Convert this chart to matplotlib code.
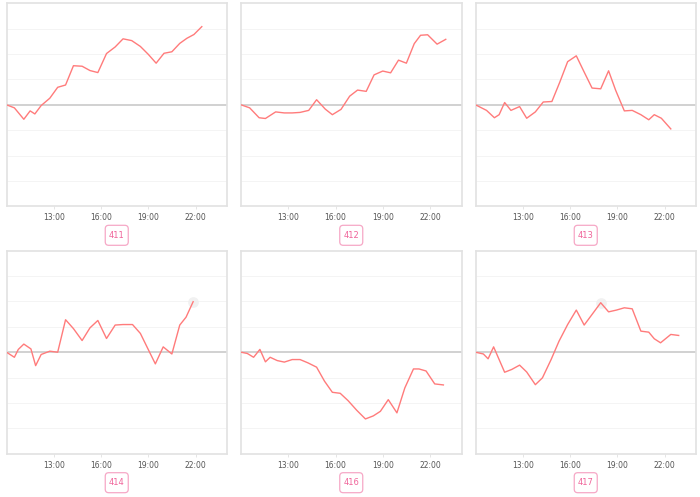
import matplotlib
matplotlib.use("Agg")
import matplotlib.pyplot as plt
from matplotlib.patches import FancyBboxPatch
from matplotlib.transforms import IdentityTransform

# time of day (hours) and relative change per grid step
t_411 = [10.0, 10.5, 11.1, 11.5, 11.8, 12.2, 12.75, 13.25, 13.75, 14.25, 14.8, 15.3, 15.8,
         16.35, 16.9, 17.4, 17.95, 18.5, 19.0, 19.5, 20.0, 20.5, 21.0, 21.45, 21.9, 22.4]
v_411 = [0, -0.12, -0.57, -0.24, -0.36, -0.03, 0.26, 0.69, 0.78, 1.54, 1.52, 1.35, 1.27,
         2.02, 2.28, 2.6, 2.53, 2.3, 1.99, 1.64, 2.03, 2.09, 2.42, 2.62, 2.77, 3.08]

t_412 = [10.0, 10.55, 11.15, 11.55, 12.2, 12.75, 13.25, 13.75, 14.3, 14.8, 15.35, 15.8, 16.35,
         16.9, 17.4, 17.95, 18.45, 19.0, 19.5, 20.0, 20.5, 21.0, 21.4, 21.85, 22.45, 23.0]
v_412 = [0, -0.12, -0.51, -0.54, -0.28, -0.32, -0.32, -0.3, -0.22, 0.2, -0.17, -0.39, -0.18,
         0.34, 0.58, 0.53, 1.18, 1.33, 1.26, 1.76, 1.64, 2.41, 2.74, 2.76, 2.39, 2.58]

t_413 = [10.0, 10.7, 11.2, 11.5, 11.85, 12.25, 12.8, 13.25, 13.8, 14.3, 14.85, 15.35, 15.85,
         16.4, 16.9, 17.4, 17.95, 18.45, 18.9, 19.45, 19.95, 20.5, 21.0, 21.35, 21.8, 22.4]
v_413 = [0, -0.22, -0.51, -0.39, 0.09, -0.22, -0.07, -0.53, -0.28, 0.11, 0.13, 0.89, 1.7,
         1.93, 1.29, 0.66, 0.63, 1.34, 0.57, -0.24, -0.22, -0.39, -0.59, -0.39, -0.53, -0.95]

t_414 = [10.0, 10.5, 10.75, 11.1, 11.55, 11.85, 12.2, 12.75, 13.25, 13.75, 14.25, 14.8, 15.3,
         15.8, 16.35, 16.9, 17.4, 18.0, 18.5, 18.95, 19.45, 19.95, 20.5, 21.0, 21.4, 21.85]
v_414 = [0, -0.2, 0.11, 0.32, 0.13, -0.53, -0.09, 0.04, 0, 1.28, 0.93, 0.46, 0.96,
         1.25, 0.54, 1.07, 1.09, 1.09, 0.74, 0.17, -0.46, 0.21, -0.07, 1.07, 1.38, 1.99]

t_416 = [10.0, 10.4, 10.8, 11.2, 11.55, 11.85, 12.3, 12.75, 13.25, 13.75, 14.25, 14.8, 15.3,
         15.8, 16.3, 16.8, 17.35, 17.9, 18.4, 18.85, 19.35, 19.9, 20.4, 20.95, 21.3, 21.75,
         22.3, 22.85]
v_416 = [0, -0.05, -0.2, 0.11, -0.38, -0.2, -0.33, -0.39, -0.29, -0.29, -0.42, -0.59, -1.14,
         -1.58, -1.62, -1.91, -2.29, -2.63, -2.51, -2.33, -1.87, -2.39, -1.41, -0.66, -0.66,
         -0.74, -1.25, -1.29]

t_417 = [10.0, 10.5, 10.8, 11.15, 11.85, 12.3, 12.8, 13.25, 13.8, 14.25, 14.8, 15.3, 15.85,
         16.4, 16.9, 17.45, 17.95, 18.45, 18.95, 19.45, 19.95, 20.5, 21.0, 21.35, 21.75, 22.4,
         22.9]
v_417 = [0, -0.07, -0.26, 0.21, -0.79, -0.68, -0.51, -0.78, -1.28, -1.01, -0.29, 0.43, 1.09,
         1.66, 1.07, 1.53, 1.95, 1.59, 1.66, 1.75, 1.71, 0.83, 0.79, 0.53, 0.37, 0.7, 0.66]

names = ["411", "412", "413", "414", "416", "417"]
series = [(t_411, v_411), (t_412, v_412), (t_413, v_413),
          (t_414, v_414), (t_416, v_416), (t_417, v_417)]
tick_hours = [13, 16, 19, 22]
tick_labels = ["13:00", "16:00", "19:00", "22:00"]
highlight = {"414": -1, "417": 16}   # faint hover circle

W, H = 700, 497
fig = plt.figure(figsize=(7, 4.97), dpi=100)

col_left = [6.5, 241, 475.5]
row_top = [3.3, 250.7]
pw, ph = 220.5, 203
bw, bh = 23, 20        # label box size in px

line_col = "#ff7b7b"
pink = "#f0649a"

for i, name in enumerate(names):
    r, c = divmod(i, 3)
    x0, y0 = col_left[c], row_top[r]
    ax = fig.add_axes([x0 / W, 1 - (y0 + ph) / H, pw / W, ph / H])
    t, v = series[i]

    for g in [-3, -2, -1, 1, 2, 3]:
        ax.axhline(g, color="#f3f3f3", lw=0.6, zorder=0)
    ax.axhline(0, color="#c9c9c9", lw=1.2, zorder=1)
    if name in highlight:
        k = highlight[name]
        ax.scatter([t[k]], [v[k]], s=60, color="#eeeeee", alpha=0.8, lw=0, zorder=2)
    ax.plot(t, v, color=line_col, lw=1.0, zorder=3)

    ax.set_xlim(10, 24)
    ax.set_ylim(-4, 4)
    ax.set_yticks([])
    ax.set_xticks(tick_hours)
    ax.set_xticklabels(tick_labels, fontsize=5.5, color="#555555")
    ax.tick_params(axis="x", length=2, width=0.6, color="#e0e0e0", pad=3)
    for s in ax.spines.values():
        s.set_color("#e2e2e2")
        s.set_linewidth(1.2)

    # label box under each panel (pixel coords, y from bottom)
    cx = x0 + pw / 2
    cy = H - (y0 + ph + 29)
    box = FancyBboxPatch((cx - bw / 2, cy - bh / 2), bw, bh,
                         boxstyle="round,pad=0,rounding_size=3.5",
                         fc="white", ec="#f6a8c6", lw=0.9,
                         transform=IdentityTransform())
    fig.add_artist(box)
    fig.text(cx / W, cy / H, name, fontsize=6, color=pink, ha="center", va="center")

fig.savefig("out.png", dpi=100)
